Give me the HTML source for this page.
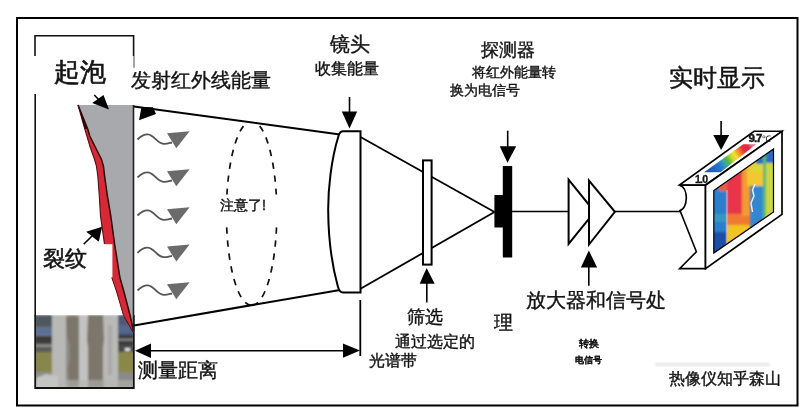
<!DOCTYPE html>
<html><head><meta charset="utf-8">
<style>
html,body{margin:0;padding:0;background:#fff;}
body{width:809px;height:417px;overflow:hidden;position:relative;font-family:"Liberation Sans",sans-serif;}
svg{position:absolute;left:0;top:0;}
.t{position:absolute;white-space:nowrap;color:#141414;line-height:1;font-family:"Liberation Sans",sans-serif;filter:grayscale(1);-webkit-text-stroke:0.4px #141414;}
</style></head><body>
<svg width="809" height="417" viewBox="0 0 809 417">
<defs>
<filter id="blur05" x="-10%" y="-10%" width="120%" height="120%"><feGaussianBlur stdDeviation="0.5"/></filter>
<filter id="blur1"><feGaussianBlur stdDeviation="0.8"/></filter>
<linearGradient id="bar" gradientUnits="userSpaceOnUse" x1="711" y1="172" x2="751" y2="144">
<stop offset="0" stop-color="#2058c0"/><stop offset="0.22" stop-color="#2a78c8"/><stop offset="0.33" stop-color="#30a8b0"/><stop offset="0.42" stop-color="#58b840"/><stop offset="0.52" stop-color="#c8d828"/><stop offset="0.6" stop-color="#f4e030"/><stop offset="0.7" stop-color="#f49028"/><stop offset="0.8" stop-color="#e83038"/><stop offset="0.92" stop-color="#e02848"/><stop offset="1" stop-color="#e87890"/>
</linearGradient>
<clipPath id="scr"><polygon points="713.8,190.5 773.5,149 773.5,212 713.8,253.1"/></clipPath>
<clipPath id="photo"><rect x="35" y="315" width="99" height="73"/></clipPath>
</defs>

<!-- faint band -->
<rect x="655" y="362.5" width="115" height="4" fill="#ebebeb" filter="url(#blur1)"/>
<!-- outer frame -->
<rect x="17" y="18" width="780.5" height="387.5" fill="none" stroke="#000" stroke-width="2"/>

<!-- inner box -->
<polyline points="35,56 35,35.8 133.6,35.8 133.6,56" fill="none" stroke="#111" stroke-width="1.6"/>
<line x1="134" y1="56" x2="134" y2="67.8" stroke="#333" stroke-width="0.9"/>
<line x1="35.2" y1="94" x2="35.2" y2="316" stroke="#111" stroke-width="1.6"/>

<!-- photo -->
<g clip-path="url(#photo)">
<g filter="url(#blur1)">
<rect x="35" y="315" width="99" height="73" fill="#7a7a78"/>
<rect x="35" y="315" width="18" height="12" fill="#505860"/>
<rect x="36" y="328" width="16" height="7" fill="#5a6e9a"/>
<rect x="35" y="336" width="18" height="7" fill="#3a3a3a"/>
<rect x="35" y="343" width="18" height="9" fill="#5a5a58"/>
<rect x="35" y="345" width="18" height="1.5" fill="#a0a0a0"/>
<rect x="35" y="352" width="18" height="20" fill="#86864e"/>
<rect x="35" y="372" width="18" height="16" fill="#8e8e8c"/>
<rect x="40" y="378" width="14" height="10" fill="#b0b0ae"/>
<rect x="118" y="315" width="16" height="20" fill="#4c5a76"/>
<rect x="119" y="325" width="12" height="8" fill="#566890"/>
<rect x="118" y="335" width="16" height="10" fill="#3c3c3c"/>
<rect x="118" y="339" width="16" height="1.5" fill="#9a9a9a"/>
<rect x="118" y="345" width="16" height="7" fill="#4a4a48"/>
<rect x="125" y="348" width="5" height="3" fill="#e0e0e0"/>
<rect x="118" y="352" width="16" height="20" fill="#8a884a"/>
<rect x="118" y="372" width="16" height="16" fill="#8a8a88"/>
<rect x="52" y="315" width="14" height="73" fill="#b8b8b6"/>
<rect x="66" y="315" width="13" height="73" fill="#8e8c86"/>
<rect x="70" y="330" width="8" height="58" fill="#6e685e"/>
<rect x="79" y="315" width="9" height="73" fill="#c2c2c0"/>
<rect x="88" y="315" width="15" height="73" fill="#7d766a"/>
<rect x="92" y="340" width="5" height="30" fill="#938c80"/>
<rect x="103" y="315" width="15" height="73" fill="#b9b9b7"/>
<rect x="108" y="325" width="4" height="50" fill="#a9a9a7"/>
<polygon points="66,318 72,316 79,318 79,388 70,388 68,370 71,350 67,335" fill="#7c766a"/>
<polygon points="88,315 103,315 104,340 101,360 104,388 88,388 90,360 87,340" fill="#7d766a"/>
<rect x="35" y="380" width="99" height="8" fill="#b4b4b2" opacity="0.6"/>
<polygon points="36,388 36,378 46,374 58,376 58,388" fill="#c4c4c2"/>
</g>
</g>
<polyline points="35.2,315 35.2,388 133.8,388 133.8,315" fill="none" stroke="#111" stroke-width="1.8"/>

<!-- gray wall -->
<polygon points="78,105 133.6,105 133.6,331 130,315 124,292 119.8,277 117.5,262 114.6,244 110.8,216 107.4,196 104.6,176 103.4,166 101.3,159 95.5,147.5 89.8,136 87.7,129" fill="#a8a9ac"/>
<!-- red crack -->
<polygon points="78,105 87.7,129 89.8,136 95.5,147.5 101.3,159 103.4,166 104.6,176 107.4,196 110.8,216 114.6,244 117.5,262 119.8,277 124,292 130,315 133.6,331 133.6,333 123.5,315.4 116.7,292 111.7,277.3 108,262 104.5,244.2 100.5,216 99.3,196 97.8,176 96.4,166 94.4,159 90.3,147.5 86.9,136 84.8,129" fill="#d62836"/>
<polyline points="78,105 87.7,129 89.8,136 95.5,147.5 101.3,159 103.4,166 104.6,176 107.4,196 110.8,216 114.6,244 117.5,262 119.8,277 124,292 130,315 133.6,331" fill="none" stroke="#2a0808" stroke-width="1.5"/>
<polyline points="78,105 84.8,129 86.9,136 90.3,147.5 94.4,159 96.4,166 97.8,176 99.3,196 100.5,216 104.5,244.2" fill="none" stroke="#5a0c10" stroke-width="1.1"/>
<polyline points="111.7,277.3 116.7,292 123.5,315.4 133.6,333" fill="none" stroke="#5a0c10" stroke-width="1"/>
<polygon points="78,105 84.8,129 87.7,129" fill="#2a0808"/>
<line x1="133.5" y1="105" x2="133.5" y2="331" stroke="#222" stroke-width="1.6"/>
<!-- label background for 裂纹 -->
<rect x="37" y="244.2" width="75.4" height="33.1" fill="#fff"/>

<!-- ellipse dashed -->
<path d="M248.41,121.94 A25.2,92.1 0 0 0 251.6,305.4" fill="none" stroke="#111" stroke-width="1.7" stroke-dasharray="6.3 6.7" stroke-dashoffset="6.4"/>
<path d="M254.79,121.94 A25.2,92.1 0 0 1 251.6,305.4" fill="none" stroke="#111" stroke-width="1.7" stroke-dasharray="6.3 6.7" stroke-dashoffset="6.4"/>
<!-- beam -->
<line x1="134" y1="106.5" x2="340" y2="134.5" stroke="#000" stroke-width="2"/>
<line x1="134" y1="325.4" x2="340" y2="289.9" stroke="#000" stroke-width="2"/>
<rect x="216" y="194.5" width="65" height="31" fill="#fff"/>

<!-- wave arrows -->
<g id="wv">
<path d="M137.5,139.5 C141,136 144,134 148,134.3 C154,134.8 157,143.5 163.5,143.8 C167,144 169.5,143 172,142.5" fill="none" stroke="#555" stroke-width="1.8"/>
<polygon points="167,133.3 189.6,131.2 176.3,148.3" fill="#6b6b6b"/>
</g>
<use href="#wv" y="38"/>
<use href="#wv" y="76"/>
<use href="#wv" y="113.3"/>
<use href="#wv" y="151"/>

<!-- arrow to wall top (起泡) -->
<polygon points="109,109.4 92.2,103.1 103.5,95.1" fill="#000"/>
<line x1="94.3" y1="95.1" x2="100" y2="101" stroke="#000" stroke-width="1.5"/>
<!-- arrow near 发射 -->
<polygon points="141.5,107 153,107.3 156,114 139,120.3" fill="#000"/>
<!-- arrow 裂纹 -->
<polygon points="102.1,226.7 86.2,231.7 98.8,241.8" fill="#000"/>
<line x1="83.7" y1="244.3" x2="92" y2="236" stroke="#000" stroke-width="1.6"/>

<!-- lens -->
<path d="M360.5,131.3 L343,131.3 Q340,131.3 338.5,136 C331,160 328,190 328.2,211 C328.4,235 331,262 338,287 Q339.5,292.5 343,292.5 L360.5,292.5 Z" fill="#fff" stroke="#000" stroke-width="2"/>
<line x1="349.5" y1="97" x2="349.5" y2="113" stroke="#000" stroke-width="1.6"/>
<polygon points="341.8,111.5 357.2,111.5 349.5,128.4" fill="#000"/>

<!-- converging -->
<line x1="360.5" y1="137" x2="494.5" y2="212" stroke="#000" stroke-width="1.8"/>
<line x1="360.5" y1="288.8" x2="494.5" y2="212" stroke="#000" stroke-width="1.8"/>

<!-- filter -->
<rect x="423" y="160.4" width="8.6" height="104.2" fill="#fff" stroke="#000" stroke-width="2"/>
<line x1="426.8" y1="283" x2="426.8" y2="302.5" stroke="#000" stroke-width="1.6"/>
<polygon points="426.6,268 434.7,283.8 419.7,283.8" fill="#000"/>

<!-- dimension line -->
<line x1="360.3" y1="300" x2="360.3" y2="356" stroke="#000" stroke-width="1.8"/>
<line x1="148" y1="350.8" x2="346" y2="350.8" stroke="#000" stroke-width="1.6"/>
<polygon points="135,350.8 151,343.5 151,358" fill="#000"/>
<polygon points="360,350.6 343,343.4 343,357.8" fill="#000"/>

<!-- detector -->
<rect x="502.8" y="166" width="9.4" height="91.5" fill="#000"/>
<rect x="494.4" y="195" width="9" height="32.5" fill="#000"/>
<line x1="507.7" y1="130.7" x2="507.7" y2="148" stroke="#000" stroke-width="1.6"/>
<polygon points="499.7,146.3 516.2,146.3 507.5,162.8" fill="#000"/>

<!-- signal line -->
<line x1="512" y1="211.5" x2="569" y2="211.5" stroke="#000" stroke-width="1.6"/>
<line x1="614" y1="211.5" x2="680" y2="211.5" stroke="#000" stroke-width="1.6"/>

<!-- amplifiers -->
<polygon points="568.6,179.6 594.6,211.8 568.6,243.9" fill="#fff" stroke="#000" stroke-width="2"/>
<polygon points="589,180.6 614.9,211.8 589,244.5" fill="#fff" stroke="#000" stroke-width="2"/>
<line x1="588.8" y1="266" x2="588.8" y2="285.8" stroke="#000" stroke-width="1.6"/>
<polygon points="588.8,250.4 597.1,267.6 580.9,267.6" fill="#000"/>

<!-- display -->
<polygon points="679.5,185 705.5,185 782,131.3 754,131.3" fill="#fff" stroke="#000" stroke-width="1.6"/>
<path d="M679.5,185.2 L705.5,185.2 L705.5,268.6 L679.6,268.6 L696.4,251.7 L680,210.6 C688,208.4 689,188 679.5,185.2 Z" fill="#fff" stroke="#000" stroke-width="1.6"/>
<polygon points="705.5,185.3 782,131.3 782,214.4 705.5,268.6" fill="#fff" stroke="#000" stroke-width="1.7"/>
<!-- screen -->
<filter id="blur2" x="-20%" y="-20%" width="140%" height="140%"><feGaussianBlur stdDeviation="1.3"/></filter>
<g clip-path="url(#scr)">
<rect x="705" y="140" width="80" height="120" fill="#3a86cc"/>
<g filter="url(#blur2)">
<rect x="705" y="140" width="22" height="120" fill="#2c7ecc"/>
<rect x="705" y="232" width="22" height="28" fill="#1d50a8"/>
<rect x="705" y="214" width="22" height="8" fill="#3498c0"/>
<rect x="719" y="183" width="8" height="8" fill="#e8603a"/>
<rect x="727" y="140" width="20" height="120" fill="#e8344a"/>
<rect x="727" y="214" width="23" height="12" fill="#f07a32"/>
<rect x="727" y="225" width="23" height="35" fill="#f2c424"/>
<rect x="742" y="160" width="8" height="56" fill="#f49a30"/>
<rect x="747" y="140" width="16" height="46" fill="#f2c830"/>
<rect x="752" y="160" width="10" height="12" fill="#d8d838"/>
<rect x="754" y="186" width="11" height="40" fill="#3288d0"/>
<rect x="756" y="140" width="20" height="24" fill="#2a6cc0"/>
<rect x="763" y="150" width="3" height="70" fill="#58b870"/>
<rect x="766" y="163" width="10" height="60" fill="#c8d644"/>
</g>
<rect x="726.6" y="190" width="0.8" height="60" fill="#e8eef0" opacity="0.7"/>
<path d="M755,184 L752.5,190 L754,196 L751,203 L752.5,212" fill="none" stroke="#f6e6ea" stroke-width="1.5"/>
</g>
<polygon points="713.8,190.5 773.5,149 773.5,212 713.8,253.1" fill="none" stroke="#000" stroke-width="1.2"/>
<!-- color bar -->
<polygon points="704,172.3 720.5,172.3 756.2,144.2 743.2,144.2" fill="url(#bar)" filter="url(#blur05)"/>
<line x1="721.1" y1="120.9" x2="721.1" y2="136" stroke="#000" stroke-width="1.6"/>
<polygon points="713.3,135 729.2,135 721.1,150.1" fill="#000"/>
</svg>

<div class="t" style="left:54.2px;top:59.6px;font-size:25.6px;-webkit-text-stroke:0.65px #141414;">起泡</div>
<div class="t" style="left:130.6px;top:69.6px;font-size:20.0px;">发射红外线能量</div>
<div class="t" style="left:329.5px;top:34.8px;font-size:19.7px;">镜头</div>
<div class="t" style="left:315.2px;top:61.2px;font-size:16.0px;">收集能量</div>
<div class="t" style="left:480.8px;top:41.2px;font-size:18.0px;">探测器</div>
<div class="t" style="left:472.3px;top:65.0px;font-size:14.0px;">将红外能量转</div>
<div class="t" style="left:450.0px;top:84.0px;font-size:13.6px;">换为电信号</div>
<div class="t" style="left:669.0px;top:66.4px;font-size:23.8px;-webkit-text-stroke:0.5px #141414;">实时显示</div>
<div class="t" style="left:220.1px;top:197.5px;font-size:14.3px;">注意了!</div>
<div class="t" style="left:43.2px;top:248.2px;font-size:22.0px;-webkit-text-stroke:0.55px #141414;">裂纹</div>
<div class="t" style="left:138.2px;top:360.8px;font-size:19.9px;">测量距离</div>
<div class="t" style="left:407.0px;top:309.4px;font-size:17.7px;">筛选</div>
<div class="t" style="left:394.5px;top:333.5px;font-size:16.0px;">通过选定的</div>
<div class="t" style="left:368.7px;top:352.4px;font-size:16.2px;">光谱带</div>
<div class="t" style="left:526.2px;top:289.5px;font-size:20.0px;">放大器和信号处</div>
<div class="t" style="left:494.2px;top:312.8px;font-size:19.3px;">理</div>
<div class="t" style="left:579.2px;top:339.2px;font-size:10.0px;font-weight:bold;-webkit-text-stroke:0.05px #141414;">转换</div>
<div class="t" style="left:574.5px;top:355.0px;font-size:9.4px;font-weight:bold;-webkit-text-stroke:0.05px #141414;">电信号</div>
<div class="t" style="left:668.6px;top:371.0px;font-size:15.5px;">热像仪知乎森山</div>
<div class="t" style="left:695px;top:174px;font-size:10.5px;font-weight:bold;letter-spacing:-0.8px;-webkit-text-stroke:0.3px #141414;">1.0</div>
<div class="t" style="left:748.5px;top:132.5px;font-size:11.5px;letter-spacing:-1px;-webkit-text-stroke:0;"><b style="-webkit-text-stroke:0.45px #141414">9.7</b><span style="font-size:9px;letter-spacing:0">℃</span></div>
</body></html>
